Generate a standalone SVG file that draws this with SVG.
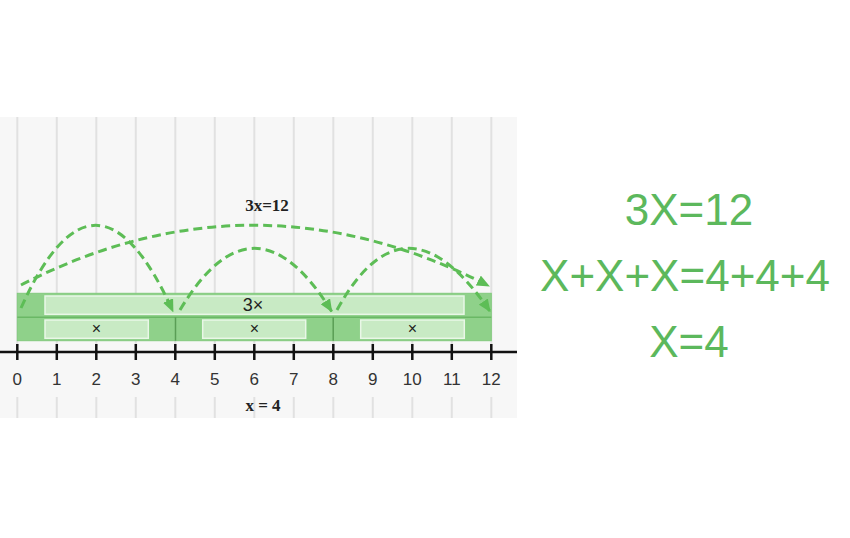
<svg xmlns="http://www.w3.org/2000/svg" width="850" height="538" viewBox="0 0 850 538">
<defs>
<style>
.grid{stroke:#e1e1e1;stroke-width:2}
.tick{stroke:#111;stroke-width:2.5}
.num{font-family:"Liberation Sans",Arial,sans-serif;font-size:17px;fill:#333;text-anchor:middle}
.ser{font-family:"Liberation Serif","Times New Roman",serif;font-weight:bold;font-size:17px;fill:#222;text-anchor:middle}
.lbl{font-family:"Liberation Sans",Arial,sans-serif;font-size:16px;fill:#222;text-anchor:middle}
.inner{fill:#c8eac4;stroke:#e9f7e7;stroke-width:1.5}
.arc{fill:none;stroke:#5dbd56;stroke-width:3;stroke-dasharray:9 5}
.eq{font-family:"Liberation Sans",Arial,sans-serif;font-size:44px;fill:#5cb85c;text-anchor:middle}
</style>
<marker id="ah" viewBox="0 0 13 11" refX="12" refY="5.5" markerWidth="13" markerHeight="11" markerUnits="userSpaceOnUse" orient="auto">
<path d="M0,0 L13,5.5 L0,11 z" fill="#5dbd56"/>
</marker>
</defs>
<rect width="850" height="538" fill="#fff"/>
<g id="panel">
<rect x="0" y="117" width="517" height="301" fill="#f7f7f7"/>
<g id="grid">
<path class="grid" d="M17.3,117V346M56.8,117V346M96.3,117V346M135.8,117V346M175.3,117V346M214.8,117V346M254.3,117V346M293.8,117V346M333.3,117V346M372.8,117V346M412.3,117V346M451.8,117V346M491.3,117V346"/>
<path class="grid" d="M17.3,397V418M56.8,397V418M96.3,397V418M135.8,397V418M175.3,397V418M214.8,397V418M254.3,397V418M293.8,397V418M333.3,397V418M372.8,397V418M412.3,397V418M451.8,397V418M491.3,397V418"/>
</g>
</g>
<g id="bar">
<rect x="17.3" y="293.3" width="474" height="47.4" fill="#8fd18a" stroke="#82ca7d" stroke-width="1"/>
<line x1="17.3" y1="317.3" x2="491.3" y2="317.3" stroke="#6ab865" stroke-width="1.5"/>
<line x1="175.5" y1="317.3" x2="175.5" y2="340.7" stroke="#5a9e55" stroke-width="1.5"/>
<line x1="333.2" y1="317.3" x2="333.2" y2="340.7" stroke="#5a9e55" stroke-width="1.5"/>
</g>
<g id="node-3x">
<rect class="inner" x="45" y="296" width="419" height="18.3"/>
<text class="lbl" x="253" y="311" style="font-size:18px">3×</text>
</g>
<g id="node-x1">
<rect class="inner" x="45" y="320" width="103.3" height="18.3"/>
<text class="lbl" x="96.3" y="334">×</text>
</g>
<g id="node-x2">
<rect class="inner" x="202.7" y="320" width="103" height="18.3"/>
<text class="lbl" x="254.3" y="334">×</text>
</g>
<g id="node-x3">
<rect class="inner" x="360.7" y="320" width="103.6" height="18.3"/>
<text class="lbl" x="412.3" y="334">×</text>
</g>
<g id="axis">
<line x1="0" y1="352" x2="517" y2="352" stroke="#111" stroke-width="2.5"/>
<path class="tick" d="M17.3,344V360M56.8,344V360M96.3,344V360M135.8,344V360M175.3,344V360M214.8,344V360M254.3,344V360M293.8,344V360M333.3,344V360M372.8,344V360M412.3,344V360M451.8,344V360M491.3,344V360"/>
<g class="num">
<text x="17.3" y="385">0</text><text x="56.8" y="385">1</text><text x="96.3" y="385">2</text><text x="135.8" y="385">3</text><text x="175.3" y="385">4</text><text x="214.8" y="385">5</text><text x="254.3" y="385">6</text><text x="293.8" y="385">7</text><text x="333.3" y="385">8</text><text x="372.8" y="385">9</text><text x="412.3" y="385">10</text><text x="451.8" y="385">11</text><text x="491.3" y="385">12</text>
</g>
</g>
<g id="connectors">
<path class="arc" d="M21,285 Q254,165 489,286" marker-end="url(#ah)"/>
<path class="arc" d="M21,308 Q96,141 173,311.5" marker-end="url(#ah)"/>
<path class="arc" d="M180,310 Q254,186 331.7,311.5" marker-end="url(#ah)"/>
<path class="arc" d="M337,310 Q405,186 490,311.5" marker-end="url(#ah)"/>
</g>
<text class="ser" x="267" y="211">3x=12</text>
<text class="ser" x="263" y="411">x = 4</text>
<g id="equations">
<text class="eq" x="689" y="225">3X=12</text>
<text class="eq" x="685" y="291">X+X+X=4+4+4</text>
<text class="eq" x="689" y="357">X=4</text>
</g>
</svg>
